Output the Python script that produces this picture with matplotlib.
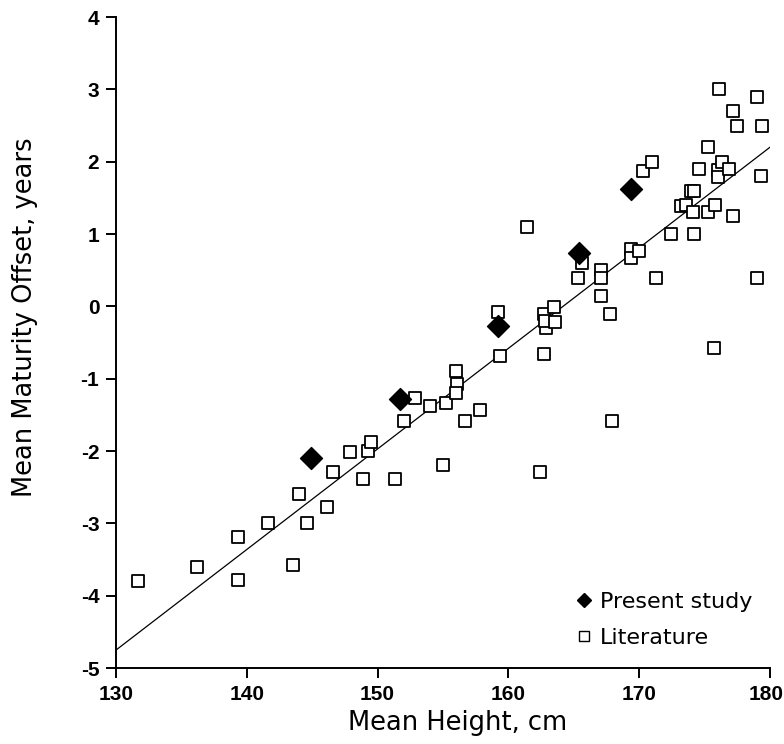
import matplotlib
matplotlib.use("Agg")
import matplotlib.pyplot as plt
import matplotlib.transforms as mtransforms
from matplotlib import font_manager
from matplotlib.lines import Line2D

# Present study (filled diamonds)
present_height = [144.9, 151.7, 159.2, 165.4, 169.4]
present_offset = [-2.09, -1.28, -0.27, 0.74, 1.62]

# Literature values (open squares)
lit_height = [
    131.7, 136.2, 139.3, 139.3, 141.6, 143.5, 144.0, 144.6, 146.1, 146.6,
    147.9, 148.9, 149.3, 149.5, 151.3, 152.0, 152.9, 154.0, 155.0, 155.2,
    156.0, 156.1, 156.0, 156.7, 157.8, 159.2, 159.4, 161.4, 162.4, 162.7,
    162.7, 162.9, 162.8, 163.5, 163.6, 165.3, 165.6, 167.1, 167.1, 167.1,
    167.8, 167.9, 169.4, 169.4, 170.0, 170.3, 171.0, 171.3, 172.4, 173.2,
    173.6, 174.0, 174.2, 174.1, 174.2, 174.6, 175.3, 175.3, 175.7, 175.8,
    176.0, 176.0, 176.1, 176.3, 176.9, 177.2, 177.2, 177.5, 179.0, 179.0,
    179.3, 179.4,
]
lit_offset = [
    -3.79, -3.60, -3.78, -3.19, -3.00, -3.57, -2.59, -3.00, -2.77, -2.29,
    -2.01, -2.39, -2.00, -1.88, -2.39, -1.59, -1.27, -1.38, -2.19, -1.34,
    -0.89, -1.07, -1.19, -1.59, -1.43, -0.08, -0.68, 1.10, -2.29, -0.66,
    -0.10, -0.30, -0.20, -0.01, -0.21, 0.40, 0.60, 0.51, 0.40, 0.15,
    -0.10, -1.58, 0.79, 0.67, 0.77, 1.87, 2.00, 0.40, 1.00, 1.39,
    1.40, 1.60, 1.60, 1.30, 1.00, 1.90, 2.20, 1.30, -0.58, 1.40,
    1.89, 1.79, 3.00, 2.00, 1.90, 2.70, 1.25, 2.50, 0.39, 2.90,
    1.80, 2.50,
]

# regression line end points
fit_height = [130, 180]
fit_offset = [-4.75, 2.2]

x_ticks = [130, 140, 150, 160, 170, 180]
y_ticks = [-5, -4, -3, -2, -1, 0, 1, 2, 3, 4]
y_tick_labels = ["-5", "-4", "-3", "-2", "-1", "0", "1", "2", "3", "4"]


def first_font(names):
    for name in names:
        try:
            font_manager.findfont(font_manager.FontProperties(family=name),
                                  fallback_to_default=False)
            return name
        except ValueError:
            continue
    return "DejaVu Sans"


LABEL_FONT = first_font(["DejaVu Sans Condensed", "DejaVu Sans"])
TICK_FONT = first_font(["Liberation Sans Narrow", "Liberation Sans"])
LABEL_SIZE = 18.5 if LABEL_FONT == "DejaVu Sans" else 20

fig = plt.figure(figsize=(7.84, 7.44), dpi=100)
ax = fig.add_axes([0.148, 0.102, 0.834, 0.875])

ax.plot(fit_height, fit_offset, color="black", linewidth=0.9, zorder=1)
ax.scatter(lit_height, lit_offset, marker="s", s=68, facecolor="white",
           edgecolor="black", linewidth=1.3, zorder=2)
ax.scatter(present_height, present_offset, marker="D", s=125, color="black",
           zorder=3)

ax.set_xlim(130, 180)
ax.set_ylim(-5, 4)
ax.set_xticks(x_ticks)
ax.set_xticklabels([str(v) for v in x_ticks])
ax.set_yticks(y_ticks)
ax.set_yticklabels(y_tick_labels)

for spine in ("top", "right"):
    ax.spines[spine].set_visible(False)
for spine in ("left", "bottom"):
    ax.spines[spine].set_linewidth(1.4)

ax.tick_params(axis="both", direction="out", length=7, width=1.4, pad=5)
for lab in ax.get_xticklabels() + ax.get_yticklabels():
    lab.set_family(TICK_FONT)
    lab.set_fontweight("bold")
    lab.set_fontsize(15 if TICK_FONT != "Liberation Sans Narrow" else 17)

# keep the last x tick label inside the canvas
last = ax.get_xticklabels()[-1]
last.set_transform(last.get_transform()
                   + mtransforms.ScaledTranslation(-3 / 72, 0, fig.dpi_scale_trans))

ax.set_xlabel("Mean Height, cm", family=LABEL_FONT, fontsize=LABEL_SIZE)
ax.set_ylabel("Mean Maturity Offset, years", family=LABEL_FONT,
              fontsize=LABEL_SIZE)
ax.xaxis.set_label_coords(0.523, -0.064)
ax.yaxis.set_label_coords(-0.12, 0.539)

handles = [
    Line2D([], [], marker="D", linestyle="none", color="black", markersize=7),
    Line2D([], [], marker="s", linestyle="none", markerfacecolor="white",
           markeredgecolor="black", markeredgewidth=1.0, markersize=6.5),
]
ax.legend(handles, ["Present study", "Literature"], loc="center left",
          bbox_to_anchor=(0.705, 0.074), frameon=False, handlelength=0.6,
          handletextpad=0.45, labelspacing=0.7, borderpad=0,
          borderaxespad=0, prop={"family": LABEL_FONT, "size": 16})

fig.savefig("out.png", dpi=100)
